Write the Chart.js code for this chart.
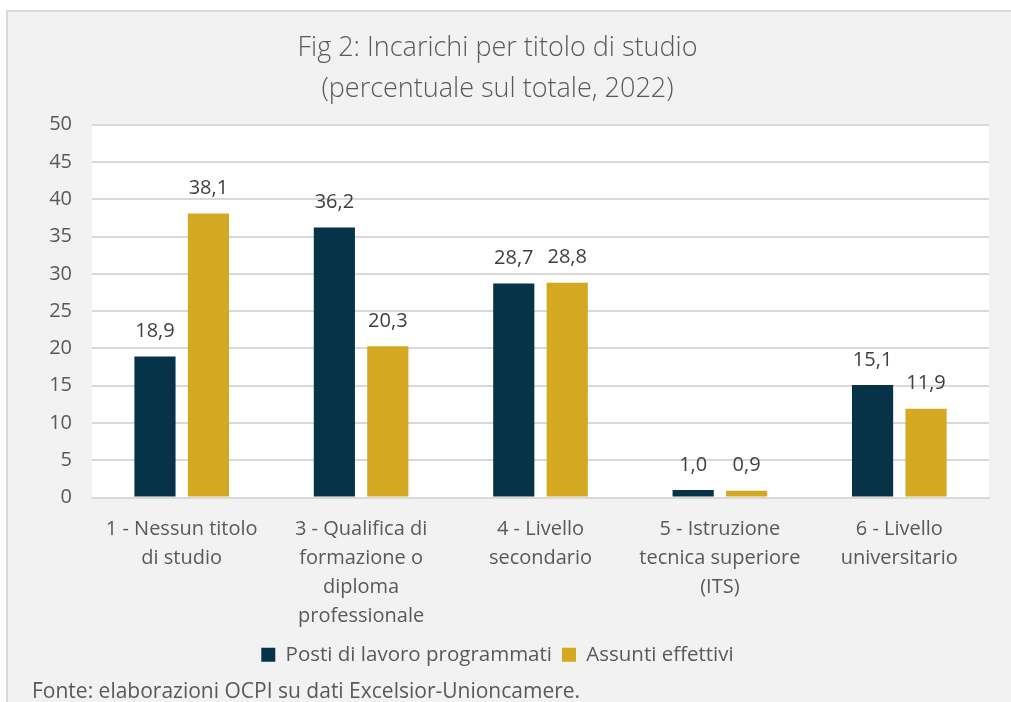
<!DOCTYPE html>
<html>
<head>
<meta charset="utf-8">
<script src="https://cdn.jsdelivr.net/npm/chart.js@4"></script>
<style>
  body { margin: 0; background: #fff; }
  #card {
    position: absolute; left: 6px; top: 10px; width: 1005px; height: 692px;
    background: #f2f2f2; border-left: 2px solid #d9d9d9; border-top: 2px solid #d9d9d9;
    box-sizing: border-box;
  }
  #chart { position: absolute; left: -2px; top: -2px; }
  #fonte {
    position: absolute; left: 24px; top: 664px;
    font-family: "Open Sans", sans-serif; font-size: 21px; color: #595959;
  }
</style>
</head>
<body>
<div id="card">
  <canvas id="chart" width="1005" height="692"></canvas>
  <div id="fonte">Fonte: elaborazioni OCPI su dati Excelsior-Unioncamere.</div>
</div>
<script>
// titoli di studio
const categories = [
  ['1 - Nessun titolo', 'di studio'],
  ['3 - Qualifica di', 'formazione o', 'diploma', 'professionale'],
  ['4 - Livello', 'secondario'],
  ['5 - Istruzione', 'tecnica superiore', '(ITS)'],
  ['6 - Livello', 'universitario']
];
const posti = [18.9, 36.2, 28.7, 1.0, 15.1];
const assunti = [38.1, 20.3, 28.8, 0.9, 11.9];
const yTicks = [0, 5, 10, 15, 20, 25, 30, 35, 40, 45, 50];

const plotBg = {
  id: 'plotBg',
  beforeDraw(chart) {
    const a = chart.chartArea, ctx = chart.ctx;
    ctx.save();
    ctx.fillStyle = '#ffffff';
    ctx.fillRect(a.left, a.top, a.right - a.left, a.bottom - a.top);
    ctx.restore();
  }
};

const valueLabels = {
  id: 'valueLabels',
  afterDatasetsDraw(chart) {
    const ctx = chart.ctx;
    ctx.save();
    ctx.font = '20px "Open Sans", sans-serif';
    ctx.fillStyle = '#404040';
    ctx.textAlign = 'center';
    ctx.textBaseline = 'middle';
    chart.data.datasets.forEach((ds, i) => {
      chart.getDatasetMeta(i).data.forEach((bar, j) => {
        ctx.fillText(ds.data[j].toFixed(1).replace('.', ','), bar.x, bar.y - 25);
      });
    });
    ctx.restore();
  }
};

new Chart(document.getElementById('chart'), {
  type: 'bar',
  data: {
    labels: categories,
    datasets: [
      { label: 'Posti di lavoro programmati', data: posti, backgroundColor: '#073349' },
      { label: 'Assunti effettivi', data: assunti, backgroundColor: '#d4a820' }
    ]
  },
  options: {
    responsive: false,
    animation: false,
    categoryPercentage: 0.596,
    barPercentage: 0.77,
    layout: { padding: { left: 0, right: 22, bottom: 27 } },
    plugins: {
      title: {
        display: true,
        text: ['Fig 2: Incarichi per titolo di studio', '(percentuale sul totale, 2022)'],
        color: '#595959',
        font: { family: '"Open Sans", sans-serif', size: 27, weight: 300, lineHeight: 1.55 },
        padding: { top: 17, bottom: 14 }
      },
      legend: {
        position: 'bottom',
        labels: {
          color: '#595959',
          boxWidth: 14, boxHeight: 14, padding: 10,
          font: { family: '"Open Sans", sans-serif', size: 20.5 }
        }
      },
      tooltip: { enabled: false }
    },
    scales: {
      x: {
        afterFit(scale) { scale.height -= 13; },
        grid: { display: false, drawTicks: false },
        border: { color: '#d9d9d9', width: 2 },
        ticks: {
          color: '#595959', padding: 17,
          font: { family: '"Open Sans", sans-serif', size: 20, lineHeight: 1.45 }
        }
      },
      y: {
        min: 0, max: 50,
        afterFit(scale) { scale.width = 86; },
        afterBuildTicks(scale) { scale.ticks = yTicks.map(v => ({ value: v })); },
        grid: { color: '#d9d9d9', lineWidth: 2, drawTicks: false },
        border: { display: false },
        ticks: {
          color: '#595959', padding: 20,
          font: { family: '"Open Sans", sans-serif', size: 20 }
        }
      }
    }
  },
  plugins: [plotBg, valueLabels]
});
</script>
</body>
</html>
